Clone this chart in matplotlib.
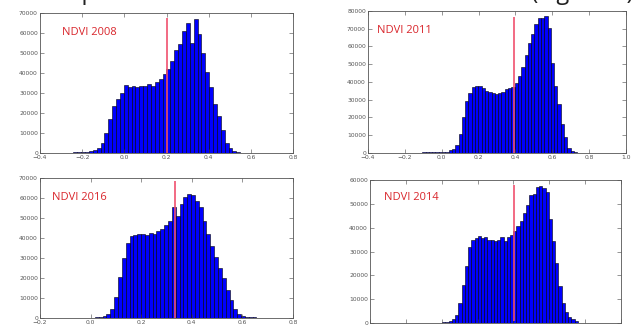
import numpy as np
import matplotlib
matplotlib.use("Agg")
import matplotlib.pyplot as plt

# histogram counts, one list per year
years = ["NDVI 2008", "NDVI 2011", "NDVI 2016", "NDVI 2014"]

counts_2008 = [100, 100, 150, 150, 200, 250, 300, 400, 600, 900,
               1500, 2500, 5000, 10000, 17000, 23500, 27000, 30000, 34000, 33000,
               33500, 33000, 33300, 33300, 34500, 33300, 35500, 37000, 39500, 42000,
               46000, 51500, 54500, 61000, 65000, 55000, 67000, 59500, 50000, 40500,
               33000, 24500, 18500, 11500, 5000, 2500, 1000, 400, 200]
counts_2011 = [100, 100, 100, 100, 150, 150, 200, 300, 500, 700, 800, 600, 500, 600,
               800, 1500, 2500, 4500, 10500, 20500, 29500, 34000, 37000, 37500,
               37500, 36500, 35000, 34500, 34000, 33500, 34000, 34500, 36000, 36500,
               37000, 39500, 43500, 48500, 55000, 62000, 67000, 72500, 76000, 76000,
               77000, 70500, 50500, 37500, 27500, 16500, 9000, 3000, 1200, 400, 100]
counts_2016 = [100, 100, 150, 200, 300,
               500, 1000, 2000, 4500, 10500, 20500, 30000, 37500, 41000, 41500,
               42000, 42000, 41700, 42500, 42000, 43500, 44500, 46500, 48500, 55500,
               51000, 57000, 60500, 62000, 61500, 58500, 55500, 48500, 42000, 36000,
               30500, 25000, 20000, 14000, 9000, 4500, 2000, 1000, 700, 400, 300, 200, 100]
counts_2014 = [100, 100, 150, 150, 200, 200, 300, 400,
               800, 1500, 3500, 8500, 16000, 24000, 32000, 35000, 35800, 36300,
               35800, 36000, 35000, 34800, 34500, 35000, 36000, 34500, 36000, 37000,
               38500, 40500, 43000, 46000, 49500, 53500, 54000, 57000, 57500, 56500,
               55000, 43500, 34500, 25000, 15500, 8500, 4500, 2500, 1500, 700, 200]

# first bin centre and bin width for each year
first_bin = [-0.3245, -0.222, -0.036, -0.096]
bin_width = [0.0184, 0.0179, 0.0152, 0.018]

# mean lines (x position, height)
mean_x = [0.2024, 0.391, 0.335, 0.401]
mean_top = [67500, 76500, 68500, 58000]
mean_bottom = [0, 0, 0, 1000]

xlims = [(-0.4, 0.8), (-0.4, 1.0), (-0.2, 0.8), (-0.4, 1.0)]
ymax = [70000, 80000, 70000, 60000]

# axes boxes in pixels: left, top, right, bottom
W, H = 632, 325
boxes = [(40, 13, 293, 153), (368, 11, 626, 153), (40, 178, 293, 318), (370, 180, 621, 323)]
label_pos = [(0.087, 0.86), (0.035, 0.86), (0.047, 0.86), (0.056, 0.88)]

all_counts = [counts_2008, counts_2011, counts_2016, counts_2014]

fig = plt.figure(figsize=(W / 100, H / 100), dpi=100)

# cut-off line of the document text above the figure
fig.text(0.06, 1.003, "temporal evolution of the mean NDVI values (Figure 6).",
         fontsize=17, family="Open Sans", va="baseline", ha="left", color="#222222")

for i in range(4):
    l, t, r, b = boxes[i]
    ax = fig.add_axes([l / W, (H - b) / H, (r - l) / W, (b - t) / H])
    cnt = np.array(all_counts[i])
    centres = first_bin[i] + bin_width[i] * np.arange(len(cnt))
    ax.bar(centres, cnt, width=bin_width[i], color="#0000ff",
           edgecolor="black", linewidth=0.4)
    ax.vlines(mean_x[i], mean_bottom[i], mean_top[i], color="#f0506e", linewidth=1.2)
    ax.text(label_pos[i][0], label_pos[i][1], years[i], transform=ax.transAxes,
            color="#d9262c", fontsize=8, family="Open Sans", va="center")

    lo, hi = xlims[i]
    ax.set_xlim(lo, hi)
    ax.set_ylim(0, ymax[i])
    ax.set_xticks(np.round(np.arange(lo, hi + 0.01, 0.2), 1))
    ax.set_yticks(np.arange(0, ymax[i] + 1, 10000))
    ax.tick_params(direction="in", top=True, right=True, length=3, width=0.4,
                   labelsize=4.3, labelcolor="#555555", color="#444444", pad=1.5)
    if i == 3:
        # bottom-right panel: its x labels fall below the cropped picture
        ax.tick_params(labelbottom=False)
    for s in ax.spines.values():
        s.set_linewidth(0.6)
        s.set_color("#555555")

fig.savefig("out.png", dpi=100)
